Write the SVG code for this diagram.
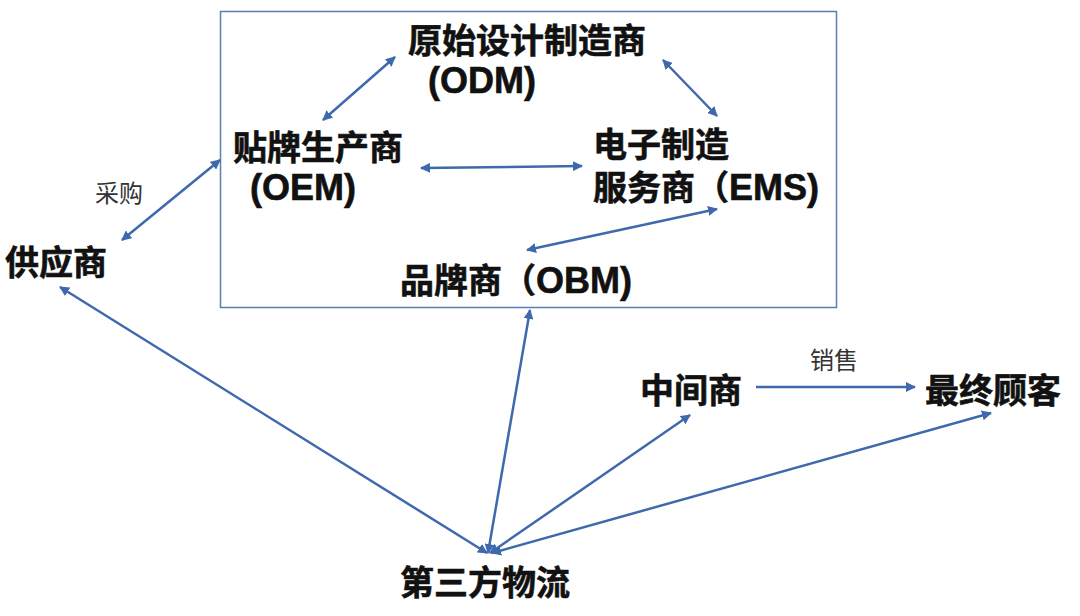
<svg xmlns="http://www.w3.org/2000/svg" width="1080" height="616" viewBox="0 0 1080 616">
<defs>
<marker id="ah" viewBox="0 0 10 10" refX="9" refY="5" markerWidth="4" markerHeight="4" orient="auto-start-reverse" markerUnits="strokeWidth">
<path d="M0,0 L10,5 L0,10 z" fill="#3f69ad"/>
</marker>
<style>
.t{font-family:"Liberation Sans","Noto Sans CJK SC",sans-serif;font-weight:bold;font-size:34px;fill:#111;stroke:#111;stroke-width:0.6;}
.l{font-size:36px;}
.s{font-family:"Liberation Sans","Noto Sans CJK SC",sans-serif;font-size:24px;fill:#333;}
.c line{stroke:#3f69ad;stroke-width:2.5;marker-end:url(#ah);}
.c line.d{marker-start:url(#ah);}
</style>
</defs>
<rect width="1080" height="616" fill="#fff"/>
<rect x="220.5" y="11.5" width="616" height="296" fill="none" stroke="#5a7db8" stroke-width="1.5"/>
<g id="odm"><text class="t" x="408" y="53">原始设计制造商</text><text class="t l" x="428" y="93">(ODM)</text></g>
<g id="oem"><text class="t" x="233" y="160">贴牌生产商</text><text class="t l" x="250" y="200">(OEM)</text></g>
<g id="ems"><text class="t" x="593" y="157">电子制造</text><text class="t" x="593" y="200">服务商（<tspan class="l">EMS)</tspan></text></g>
<g id="obm"><text class="t" x="400" y="293">品牌商（<tspan class="l">OBM)</tspan></text></g>
<g id="supplier"><text class="t" x="5" y="275">供应商</text></g>
<g id="middle"><text class="t" x="640" y="403">中间商</text></g>
<g id="customer"><text class="t" x="925" y="403">最终顾客</text></g>
<g id="tpl"><text class="t" x="400" y="595">第三方物流</text></g>
<g id="labels"><text class="s" x="95" y="202">采购</text><text class="s" x="810" y="369">销售</text></g>
<g class="c" id="connectors">
<line class="d" x1="395" y1="57" x2="323" y2="120"/>
<line class="d" x1="663" y1="60" x2="717" y2="116"/>
<line class="d" x1="421" y1="168" x2="582" y2="166"/>
<line class="d" x1="717" y1="209" x2="527" y2="250"/>
<line class="d" x1="122" y1="240" x2="220" y2="160"/>
<line class="d" x1="60" y1="287" x2="487" y2="553"/>
<line class="d" x1="530" y1="310" x2="488" y2="553"/>
<line class="d" x1="690" y1="415" x2="490" y2="553"/>
<line class="d" x1="991" y1="413" x2="492" y2="553"/>
<line x1="756" y1="387" x2="915" y2="387"/>
</g>
</svg>
